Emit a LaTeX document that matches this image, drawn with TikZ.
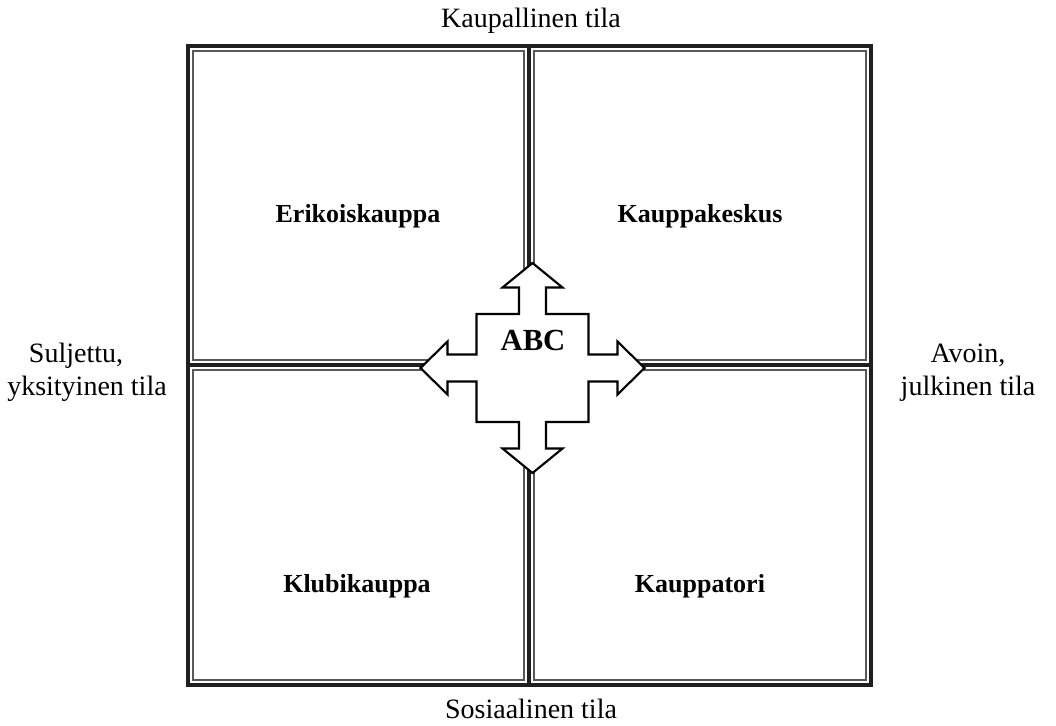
\documentclass[tikz,border=0pt]{standalone}
\usepackage{fontspec}
\setmainfont{Liberation Serif}
\begin{document}
\begin{tikzpicture}[x=0.75pt,y=-0.75pt,
  heavy/.style={line width=3pt,black!88},
  fine/.style={line width=0.8pt,black!65},
  axislabel/.style={font=\fontsize{21}{24.75}\selectfont,inner sep=0pt,anchor=base},
  quadlabel/.style={font=\fontsize{19.5}{23}\selectfont\bfseries,inner sep=0pt,anchor=base},
  crossarrow/.style={line width=1.6pt,fill=white,draw=black,line join=miter}]
\useasboundingbox (0,0) rectangle (1056,725);

% inner rules of the four fields
\draw[fine] (193,51) rectangle (524,360);
\draw[fine] (534,51) rectangle (866,360);
\draw[fine] (193,370) rectangle (524,680);
\draw[fine] (534,370) rectangle (866,680);

% heavy frame and the cross dividing it
\draw[heavy] (188,46) rectangle (871,685);
\draw[heavy] (529,46) -- (529,685);
\draw[heavy] (188,365) -- (871,365);

% four-way arrow in the middle
\begin{scope}[shift={(532.5,368)}]
\draw[crossarrow]
  (0,-105) -- (30,-80.5) -- (13.5,-80.5) -- (13.5,-54) -- (56,-54) -- (56,-13.5)
  -- (85,-13.5) -- (85,-26.5) -- (112,0) -- (85,26.5) -- (85,13.5) -- (56,13.5)
  -- (56,54) -- (13.5,54) -- (13.5,80.5) -- (30,80.5) -- (0,105) -- (-30,80.5)
  -- (-13.5,80.5) -- (-13.5,54) -- (-56,54) -- (-56,13.5) -- (-85,13.5)
  -- (-85,26.5) -- (-112,0) -- (-85,-26.5) -- (-85,-13.5) -- (-56,-13.5)
  -- (-56,-54) -- (-13.5,-54) -- (-13.5,-80.5) -- (-30,-80.5) -- cycle;
\end{scope}
\node[font=\fontsize{23}{27}\selectfont\bfseries,inner sep=0pt,anchor=base] (abc) at (533,350) {ABC};

% field names
\node[quadlabel] (erikois) at (358,222) {Erikoiskauppa};
\node[quadlabel] (keskus) at (700,222) {Kauppakeskus};
\node[quadlabel] (klubi) at (357,592) {Klubikauppa};
\node[quadlabel] (tori) at (700,592) {Kauppatori};

% axis names
\node[axislabel] (ylä) at (531,27) {Kaupallinen tila};
\node[axislabel] (ala) at (531,718) {Sosiaalinen tila};
\node[axislabel] (vasen1) at (76,362) {Suljettu,};
\node[axislabel] (vasen2) at (87,395) {yksityinen tila};
\node[axislabel] (oikea1) at (968,362) {Avoin,};
\node[axislabel] (oikea2) at (968,395) {julkinen tila};
\end{tikzpicture}
\end{document}
